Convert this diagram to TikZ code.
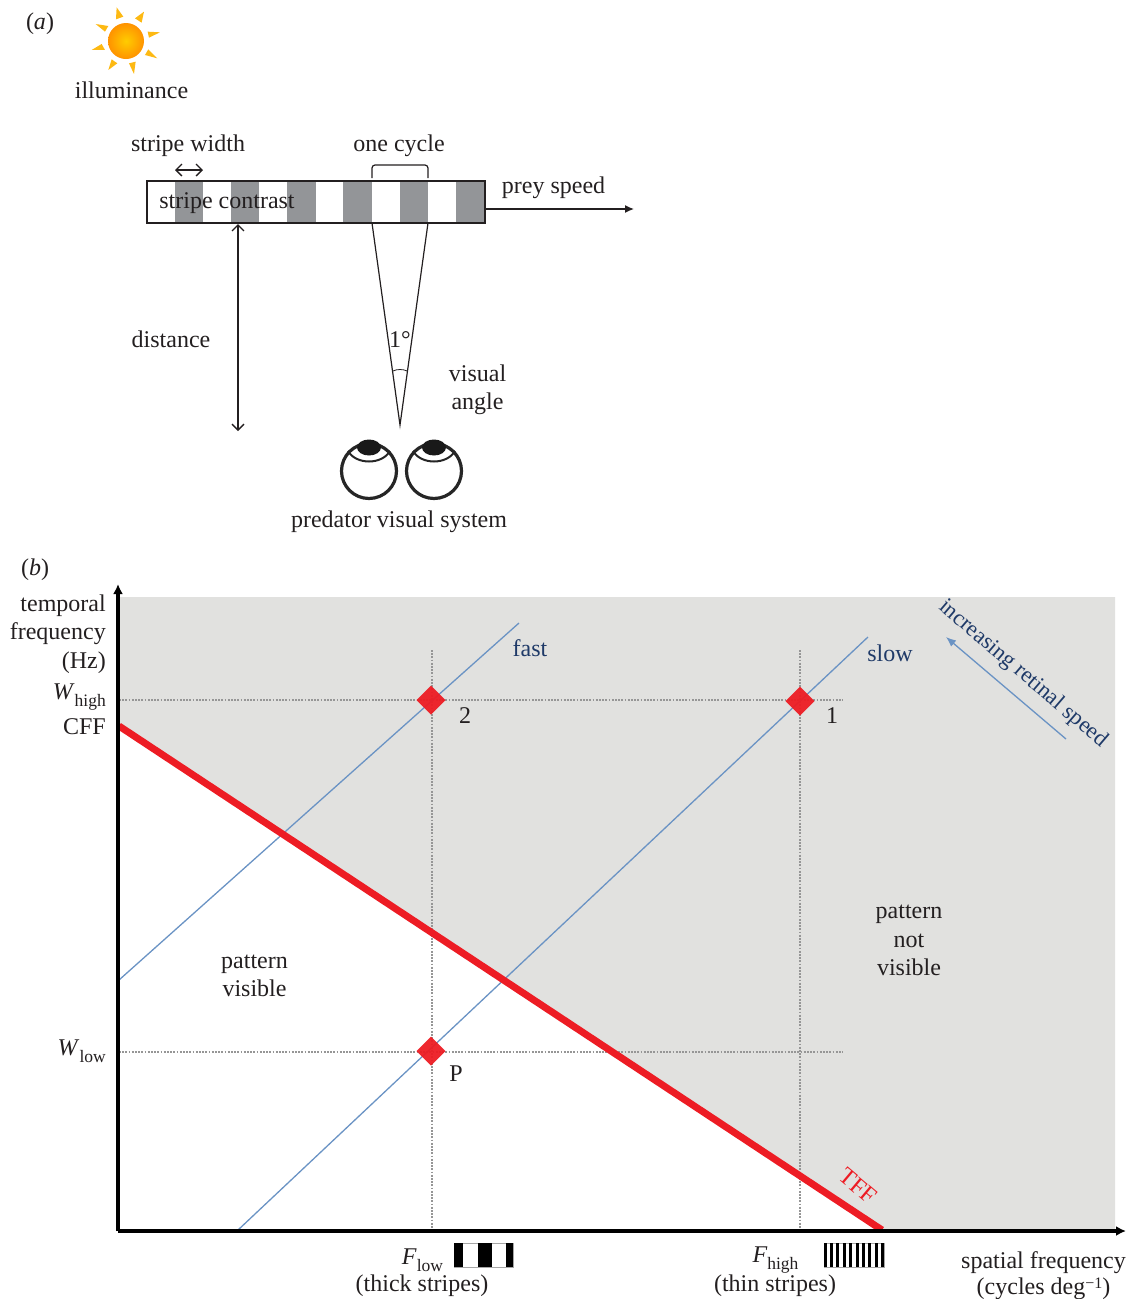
\documentclass[tikz,border=0pt]{standalone}
\usepackage{fontspec}
\setmainfont{Liberation Serif}
\usetikzlibrary{arrows.meta}
\definecolor{bggray}{HTML}{E1E1DF}
\definecolor{stripegray}{HTML}{939598}
\definecolor{redline}{HTML}{ED1C24}
\definecolor{blueline}{HTML}{6A93C4}
\definecolor{bluetext}{HTML}{1F3A68}
\definecolor{inkc}{HTML}{231F20}
\definecolor{dotgray}{HTML}{969696}
\definecolor{rayc}{HTML}{FDB913}
\newcommand{\subt}[1]{\raisebox{-7.5pt}{\fontsize{17.5}{20}\selectfont #1}}
\tikzset{
  lab/.style={font=\fontsize{24}{28.5}\selectfont, text=inkc, inner sep=0pt, align=center},
  rlab/.style={lab, align=right, anchor=east},
  bluelab/.style={lab, text=bluetext},
  thinline/.style={draw=inkc, line width=1.2pt},
  openarrow/.style={thinline, {Straight Barb[length=6pt,width=12pt,line width=1.4pt]}-{Straight Barb[length=6pt,width=12pt,line width=1.4pt]}},
  speedline/.style={draw=blueline, line width=1.3pt},
  dots/.style={draw=dotgray, line width=2.2pt, dash pattern=on 1.8pt off 1.4pt},
  axis/.style={draw=black, line width=3.2pt, -{Latex[length=10pt,width=10pt]}},
  mark diamond/.style={fill=redline, fill opacity=0.95},
}
\begin{document}
\begin{tikzpicture}[x=1pt,y=-1pt]
\useasboundingbox (0,0) rectangle (1131,1299);
% ---------- panel a
\node[lab] (la) at (40,24) {(\textit{a})};
% sun
\begin{scope}[x=0.3333pt,y=-0.3333pt]
\fill[rayc] (350,22)--(348,58)--(370,50)--cycle;
\fill[rayc] (432,35)--(405,55)--(425,68)--cycle;
\fill[rayc] (480,97)--(443,95)--(447,113)--cycle;
\fill[rayc] (472,175)--(445,148)--(435,165)--cycle;
\fill[rayc] (402,222)--(387,190)--(407,185)--cycle;
\fill[rayc] (325,210)--(335,178)--(352,190)--cycle;
\fill[rayc] (275,150)--(305,132)--(315,150)--cycle;
\fill[rayc] (287,72)--(325,78)--(315,95)--cycle;
\end{scope}
\shade[inner color=yellow!60!orange, outer color=orange!85!yellow] (126,41) circle (18pt);
\node[lab] (illum) at (131.5,90) {illuminance};
% stripes
\fill[white] (147,181) rectangle (485,223);
\foreach \a/\b in {175/203,231/259,287/316,343/372,400/428,456/485}
  \fill[stripegray] (\a,181) rectangle (\b,223);
\draw[draw=inkc,line width=2.6pt] (147,181) rectangle (485,223);
\node[lab] (contrast) at (227,203) {stripe contrast};
\node[lab] (swidth) at (188,146) {stripe width};
\coordinate (swl) at (175,170);
\coordinate (swr) at (203,170);
\draw[openarrow] (swl) -- (swr);
\node[lab] (cycle) at (399,146) {one cycle};
\coordinate (bl) at (372,178);
\coordinate (bla) at (372,165);
\coordinate (bra) at (428,165);
\coordinate (br) at (428,178);
\draw[thinline,rounded corners=3pt] (bl) -- (bla) -- (bra) -- (br);
\node[lab] (prey) at (553.5,188) {prey speed};
\coordinate (ps) at (486,209);
\coordinate (pe) at (634,209);
\draw[draw=inkc,line width=1.3pt,-{Latex[length=9pt,width=8pt]}] (ps) -- (pe);
\coordinate (dt) at (238,224);
\coordinate (db) at (238,431);
\draw[openarrow] (dt) -- (db);
\node[lab] (dist) at (171,339.5) {distance};
\coordinate (cl) at (372,223);
\coordinate (cr) at (428,223);
\coordinate (apex) at (400,425);
\draw[thinline,line join=miter] (cl) -- (apex) -- (cr);
\draw[thinline,line width=0.8pt] (393,371) .. controls (397,369) and (403,369) .. (407,371);
\node[lab] (deg) at (400,340) {1°};
\node[lab] (vis) at (477.5,390) {visual\\angle};
% eyes
\foreach \cx/\nm in {369/eyeL,434/eyeR}{
  \draw[draw=black!85,line width=3.2pt] (\cx,471) circle (27.5pt);
  \draw[draw=black!85,line width=2pt] (\cx-21,451) .. controls (\cx-13,465) and (\cx+13,465) .. (\cx+21,451);
  \fill[black!90] (\cx,447.5) ellipse (12pt and 8pt);
}
\node[lab] (pred) at (399,522) {predator visual system};
% ---------- panel b
\node[lab] (lb) at (35,570) {(\textit{b})};
\fill[bggray] (119,597) -- (1115,597) -- (1115,1230) -- (882,1230) -- (119,726) -- cycle;
% dotted guides
\coordinate (h1a) at (119,700); \coordinate (h1b) at (843,700);
\coordinate (h2a) at (119,1052); \coordinate (h2b) at (843,1052);
\coordinate (v1a) at (432,650); \coordinate (v1b) at (432,1230);
\coordinate (v2a) at (800,650); \coordinate (v2b) at (800,1230);
\draw[dots] (h1a) -- (h1b);
\draw[dots] (h2a) -- (h2b);
\draw[dots] (v1a) -- (v1b);
\draw[dots] (v2a) -- (v2b);
% speed lines
\coordinate (fa) at (119,980); \coordinate (fb) at (519,623);
\coordinate (sa) at (238,1230); \coordinate (sb) at (868,637);
\draw[speedline] (fa) -- (fb);
\draw[speedline] (sa) -- (sb);
% diamonds
\foreach \x/\y in {431/700,800/701,431/1051}
  \fill[mark diamond] (\x-14.5,\y) -- (\x,\y-14.5) -- (\x+14.5,\y) -- (\x,\y+14.5) -- cycle;
% TFF
\coordinate (ta) at (119,726); \coordinate (tb) at (882,1230);
\draw[draw=redline,line width=7pt] (ta) -- (tb);
% axes
\coordinate (o) at (118,1231);
\coordinate (yt) at (118,584);
\coordinate (xt) at (1126,1231);
\draw[axis] (o) -- (yt);
\draw[axis] (o) -- (xt);
% labels
\node[rlab] (ylab) at (106,634) {temporal\\frequency\\(Hz)};
\node[rlab] (whigh) at (106,697) {\textit{W}\subt{high}};
\node[rlab] (cff) at (106,727) {CFF};
\node[rlab] (wlow) at (106,1051) {\textit{W}\subt{low}};
\node[bluelab] (fast) at (530,648) {fast};
\node[bluelab] (slow) at (890,653) {slow};
\node[lab] (n2) at (465,716) {2};
\node[lab] (n1) at (832,716) {1};
\node[lab] (np) at (456,1074) {P};
\node[lab] (pv) at (254.5,976) {pattern\\visible};
\node[lab] (pnv) at (909,940.5) {pattern\\not\\visible};
\node[lab,text=redline,font=\fontsize{24}{24}\selectfont,rotate=-40] (tff) at (858,1186) {TFF};
\node[bluelab,font=\fontsize{22.7}{24}\selectfont,rotate=-40.5] (inc) at (1023,674) {increasing retinal speed};
\coordinate (ia) at (1066,739); \coordinate (ib) at (946,637);
\draw[speedline,-{Latex[length=10pt,width=8pt]}] (ia) -- (ib);
\node[lab] (flow) at (422.5,1260) {\textit{F}\subt{low}};
\node[lab] (thick) at (422,1286) {(thick stripes)};
\node[lab] (fhigh) at (775.5,1260) {\textit{F}\subt{high}};
\node[lab] (thin) at (775,1286) {(thin stripes)};
\node[lab] (sf) at (1043.5,1276) {spatial frequency\\[-2.5pt](cycles deg\raisebox{6pt}{\fontsize{16}{18}\selectfont −1})};
% stripe icons
\draw[draw=gray!70,line width=0.6pt] (454,1243) rectangle (513,1267);
\foreach \a/\b in {454/463,478/492,506/513}
  \fill[black] (\a,1243) rectangle (\b,1267);
\draw[draw=gray!70,line width=0.6pt] (824,1243) rectangle (884,1267);
\foreach \i in {0,...,9}
  \fill[black] (823.5+6.4*\i,1243) rectangle (826.5+6.4*\i,1267);
\end{tikzpicture}
\end{document}
